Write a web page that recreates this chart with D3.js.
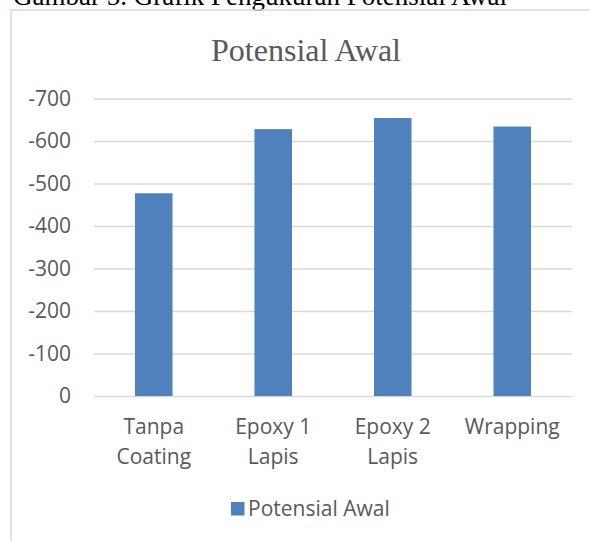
<!DOCTYPE html>
<html>
<head>
<meta charset="utf-8">
<script src="https://cdn.jsdelivr.net/npm/d3@7"></script>
<style>
  body { margin: 0; background: #fff; }
  svg { display: block; }
</style>
</head>
<body>
<div id="chart"></div>
<script>
(function () {

  // data (values are negative potentials, mV)
  const categories = [["Tanpa", "Coating"], ["Epoxy 1", "Lapis"], ["Epoxy 2", "Lapis"], ["Wrapping"]];
  const potensialAwal = [-477, -628, -654, -634];
  const yTicks = [0, -100, -200, -300, -400, -500, -600, -700];
  const seriesName = "Potensial Awal";
  const chartTitle = "Potensial Awal";
  const caption = "Gambar 5. Grafik Pengukuran Potensial Awal";

  const W = 590, H = 541;
  const margin = {top: 98.5, right: 18, bottom: 145, left: 94};
  const width = W - margin.left - margin.right,
        height = H - margin.top - margin.bottom;

  const svg = d3.select("#chart").append("svg")
      .attr("width", W)
      .attr("height", H);

  // caption of the document, cut off at top
  svg.append("text")
      .attr("x", 13).attr("y", 5)
      .style("font-family", "'Liberation Serif', 'Times New Roman', serif")
      .style("font-size", "27px")
      .style("fill", "#000")
      .text(caption);

  // chart frame
  svg.append("rect")
      .attr("x", 11).attr("y", 10)
      .attr("width", W + 10).attr("height", H + 10)
      .style("fill", "none")
      .style("stroke", "#d9d9d9")
      .style("stroke-width", 1.5);

  svg.append("text")
      .attr("x", 306).attr("y", 61)
      .attr("text-anchor", "middle")
      .style("font-family", "'Liberation Serif', 'Times New Roman', serif")
      .style("font-size", "32px")
      .style("fill", "#595959")
      .text(chartTitle);

  const g = svg.append("g")
      .attr("transform", "translate(" + margin.left + "," + margin.top + ")");

  const x = d3.scaleBand()
      .domain(d3.range(categories.length))
      .range([0, width])
      .paddingInner(0.686)
      .paddingOuter(0.343);

  const y = d3.scaleLinear()
      .domain([0, -700])
      .range([height, 0]);

  // gridlines
  g.append("g")
      .call(d3.axisLeft(y).tickValues(yTicks).tickSize(-width).tickFormat(""))
      .call(s => s.select(".domain").remove())
      .call(s => s.selectAll("line").style("stroke", "#d9d9d9").style("stroke-width", 1.5));

  // y tick labels
  g.append("g")
      .call(d3.axisLeft(y).tickValues(yTicks).tickSize(0).tickPadding(23)
        .tickFormat(d => d === 0 ? "0" : "-" + Math.abs(d)))
      .call(s => s.select(".domain").remove())
      .call(s => s.selectAll("text")
        .style("font-family", "'Open Sans', 'Noto Sans', sans-serif")
        .style("font-size", "21px")
        .style("fill", "#595959"));

  // bars
  g.selectAll("rect.bar")
      .data(potensialAwal)
      .enter()
      .append("rect")
        .attr("class", "bar")
        .attr("x", (d, i) => x(i))
        .attr("y", d => y(d))
        .attr("width", x.bandwidth())
        .attr("height", d => height - y(d))
        .style("fill", "#4f81bd");

  // category labels
  const xl = g.append("g")
      .attr("transform", "translate(0," + height + ")")
      .selectAll("text")
      .data(categories)
      .enter()
      .append("text")
        .attr("text-anchor", "middle")
        .attr("x", (d, i) => x(i) + x.bandwidth() / 2)
        .attr("y", 38)
        .style("font-family", "'Open Sans', 'Noto Sans', sans-serif")
        .style("font-size", "21px")
        .style("fill", "#595959");
  xl.selectAll("tspan")
      .data(d => d)
      .enter()
      .append("tspan")
        .attr("x", function () { return d3.select(this.parentNode).attr("x"); })
        .attr("dy", (d, i) => i === 0 ? 0 : 29.5)
        .text(d => d);

  // legend
  const lg = svg.append("g").attr("transform", "translate(231,502)");
  lg.append("rect")
      .attr("width", 13.5).attr("height", 13.5)
      .style("fill", "#4f81bd");
  lg.append("text")
      .attr("x", 17).attr("y", 14)
      .style("font-family", "'Open Sans', 'Noto Sans', sans-serif")
      .style("font-size", "21px")
      .style("fill", "#595959")
      .text(seriesName);

})();
</script>
</body>
</html>
